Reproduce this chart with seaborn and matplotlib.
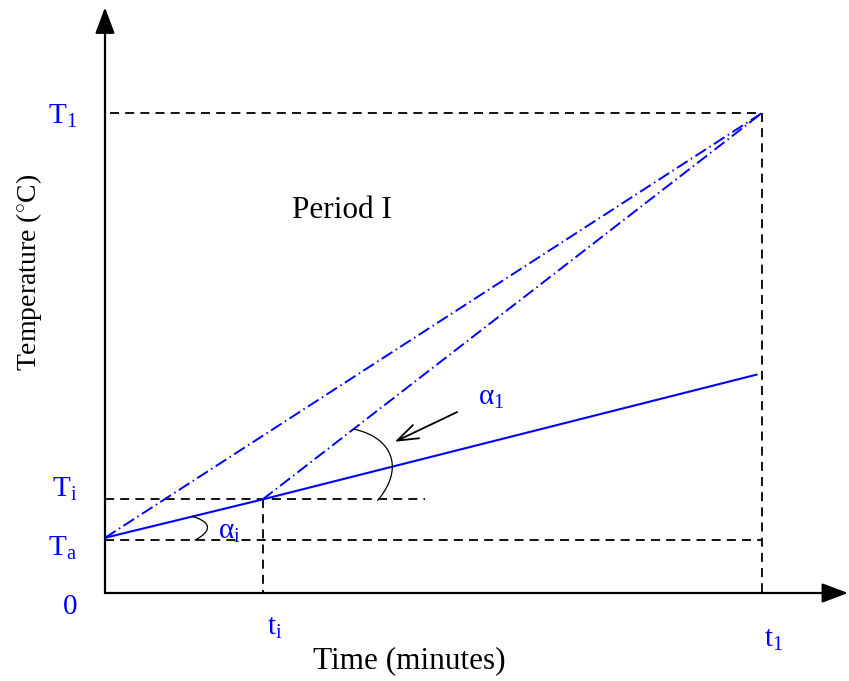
import numpy as np
import pandas as pd
import seaborn as sns
import matplotlib
matplotlib.use("Agg")
import matplotlib.pyplot as plt
from matplotlib.transforms import ScaledTranslation

# Key instants (minutes) and temperatures (deg C)
t_i = 2.4
t_1 = 10.0
T_a = 11.0
T_i = 19.5
T_1 = 100.0

# Actual heating curve (solid)
heat_t = [0.0, t_i, 9.92]
heat_T = [11.5, T_i, 45.5]
# Direct ramp from the start to the target (dash-dot)
direct_t = [0.0, t_1]
direct_T = [11.5, T_1]
# Ramp from the intermediate point to the target (dash-dot)
step_t = [t_i, t_1]
step_T = [T_i, T_1]

# Reach of the short T_i guide line
ti_guide_end = 4.87

y_ticks = [0, T_a, T_i, T_1]
y_labels = ["0", r"$\mathrm{T}_\mathrm{a}$", r"$\mathrm{T}_\mathrm{i}$", r"$\mathrm{T}_1$"]
x_ticks = [t_i, t_1]
x_labels = [r"$\mathrm{t}_\mathrm{i}$", r"$\mathrm{t}_1$"]

sns.set_theme(style="white")
plt.rcParams["font.family"] = ["Liberation Serif", "DejaVu Serif"]
plt.rcParams["mathtext.fontset"] = "custom"
plt.rcParams["mathtext.rm"] = "Liberation Serif"
plt.rcParams["mathtext.it"] = "Liberation Serif:italic"
plt.rcParams["mathtext.bf"] = "Liberation Serif:bold"

BLUE = "#0000ff"
fig = plt.figure(figsize=(8.49, 6.81), dpi=100)
ax = fig.add_axes([105 / 849, 88 / 681, 657 / 849, 480 / 681])
ax.set_xlim(0, t_1)
ax.set_ylim(0, T_1)
for sp in ax.spines.values():
    sp.set_visible(False)

# Dashed reference lines
dash = (0, (5.0, 3.4))
guide = dict(color="black", lw=1.3, linestyle=dash, clip_on=False)
ax.plot([0.08, t_1], [T_1, T_1], **guide)
ax.plot([t_1, t_1], [T_1, 0], **guide)
ax.plot([0, t_1], [T_a, T_a], **guide)
ax.plot([0, ti_guide_end], [T_i, T_i], **guide)
ax.plot([t_i, t_i], [T_i, 0], **guide)

# Temperature curves
dashdot = (0, (6.5, 2.0, 0.8, 2.0))
sns.lineplot(x=direct_t, y=direct_T, ax=ax, color=BLUE, lw=1.4,
             linestyle=dashdot, legend=False, clip_on=False)
sns.lineplot(x=step_t, y=step_T, ax=ax, color=BLUE, lw=1.4,
             linestyle=dashdot, legend=False, clip_on=False)
sns.lineplot(x=heat_t, y=heat_T, ax=ax, color=BLUE, lw=1.5,
             legend=False, clip_on=False)

# Axes with arrow heads
axis_arrow = dict(arrowstyle="-|>,head_length=0.8,head_width=0.3",
                  mutation_scale=20, color="black", lw=1.6,
                  shrinkA=0, shrinkB=0)
ax.annotate("", xy=(11.31, 0), xytext=(0, 0), arrowprops=axis_arrow,
            annotation_clip=False)
ax.annotate("", xy=(0, 122), xytext=(0, 0), arrowprops=axis_arrow,
            annotation_clip=False)

fig.canvas.draw()


def angle_mark(center, a0, a1, r0, bulge):
    """Curved angle marker between two screen directions (degrees)."""
    cx, cy = ax.transData.transform(center)
    th = np.linspace(a0, a1, 60)
    frac = (th - a0) / (a1 - a0)
    r = r0 + bulge * np.sin(np.pi * frac)
    pts = np.column_stack([cx + r * np.cos(np.radians(th)),
                           cy + r * np.sin(np.radians(th))])
    d = ax.transData.inverted().transform(pts)
    ax.plot(d[:, 0], d[:, 1], color="black", lw=0.9, clip_on=False)


def screen_angle(t0, T0, t1, T1):
    p = ax.transData.transform([(t0, T0), (t1, T1)])
    return np.degrees(np.arctan2(p[1, 1] - p[0, 1], p[1, 0] - p[0, 0]))


ang_i = screen_angle(heat_t[0], heat_T[0], heat_t[1], heat_T[1])
angle_mark((heat_t[0], heat_T[0]), -1.5, ang_i, 90, 13)
ang_1 = screen_angle(step_t[0], step_T[0], step_t[1], step_T[1])
angle_mark((step_t[0], step_T[0]), -0.5, ang_1, 115, 20)

ax.annotate("", xy=(4.41, 31.5), xytext=(5.36, 37.7),
            arrowprops=dict(arrowstyle="->,head_length=1.0,head_width=0.35",
                            mutation_scale=15, color="black", lw=1.3,
                            shrinkA=0, shrinkB=0),
            annotation_clip=False)

ax.text(1.72, 11.2, r"$\mathrm{\alpha}_\mathrm{i}$", color=BLUE, fontsize=21,
        ha="left", va="baseline")
ax.text(5.68, 39.2, r"$\mathrm{\alpha}_1$", color=BLUE, fontsize=21,
        ha="left", va="baseline")
ax.text(3.61, 79.6, "Period I", color="black", fontsize=22.5,
        ha="center", va="center")

# Ticks
ax.set_yticks(y_ticks)
ax.set_yticklabels(y_labels, color=BLUE, fontsize=21)
ax.set_xticks(x_ticks)
ax.set_xticklabels(x_labels, color=BLUE, fontsize=21)
ax.tick_params(axis="both", length=0)
ax.tick_params(axis="y", pad=20)
ax.tick_params(axis="x", pad=16)

y_shift = [-11, -5, 13, 0]
for lab, dy in zip(ax.get_yticklabels(), y_shift):
    lab.set_transform(lab.get_transform() +
                      ScaledTranslation(0, dy / 100, fig.dpi_scale_trans))
x_shift = [(12, 0), (12, -12)]
for lab, (dx, dy) in zip(ax.get_xticklabels(), x_shift):
    lab.set_transform(lab.get_transform() +
                      ScaledTranslation(dx / 100, dy / 100, fig.dpi_scale_trans))

ax.set_xlabel("Time (minutes)", fontsize=22.5, color="black", va="center")
ax.xaxis.set_label_coords((409 - 105) / 657, (593 - 661) / 480)
ax.set_ylabel(r"Temperature ($^{\circ}$C)", fontsize=20, color="black",
              va="center")
ax.yaxis.set_label_coords((29 - 105) / 657, (593 - 272) / 480)

fig.savefig("out.png", dpi=100)
